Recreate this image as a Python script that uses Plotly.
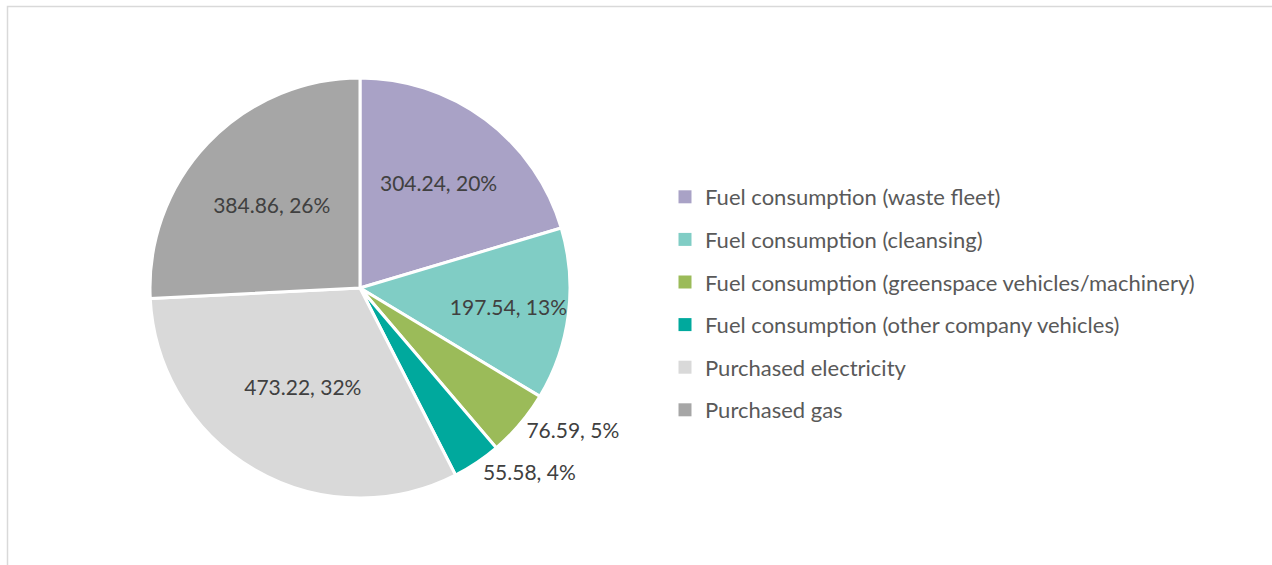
import plotly.graph_objects as go

categories = [
    "Fuel consumption (waste fleet)",
    "Fuel consumption (cleansing)",
    "Fuel consumption (greenspace vehicles/machinery)",
    "Fuel consumption (other company vehicles)",
    "Purchased electricity",
    "Purchased gas",
]
values = [304.24, 197.54, 76.59, 55.58, 473.22, 384.86]
colors = ["#a9a2c6", "#80cdc5", "#9bbb59", "#00a99d", "#d9d9d9", "#a6a6a6"]
text_positions = ["inside", "inside", "outside", "outside", "inside", "inside"]

W, H = 1272, 565
FONT = "Lato"

fig = go.Figure()
fig.add_trace(go.Pie(
    labels=categories,
    values=values,
    sort=False,
    direction="clockwise",
    rotation=0,
    marker=dict(colors=colors, line=dict(color="white", width=3)),
    texttemplate="%{value}, %{percent:.0%}",
    textposition=text_positions,
    insidetextorientation="horizontal",
    textfont=dict(family=FONT, size=21, color="#404040"),
    outsidetextfont=dict(family=FONT, size=21, color="#404040"),
    domain=dict(x=[150 / W, 570 / W], y=[(H - 498) / H, (H - 78) / H]),
    hoverinfo="label+value+percent",
    showlegend=False,
))

# legend entries (square swatches) for each category
for cat, col in zip(categories, colors):
    fig.add_trace(go.Scatter(
        x=[None], y=[None], mode="markers", name=cat,
        marker=dict(symbol="square", size=13, color=col),
        legendgroup=cat, hoverinfo="skip",
    ))

fig.update_layout(
    width=W, height=H,
    margin=dict(l=0, r=0, t=0, b=0),
    paper_bgcolor="white",
    plot_bgcolor="white",
    font=dict(family=FONT, color="#595959"),
    xaxis=dict(visible=False),
    yaxis=dict(visible=False),
    showlegend=True,
    legend=dict(
        x=665 / W, y=1 - 303.5 / H, xanchor="left", yanchor="middle",
        font=dict(family=FONT, size=22, color="#595959"),
        bgcolor="rgba(0,0,0,0)",
        traceorder="grouped",
        tracegroupgap=11,
    ),
    shapes=[dict(
        type="rect", xref="paper", yref="paper",
        x0=7.5 / W, x1=1.02, y0=-0.02, y1=1 - 6.5 / H,
        line=dict(color="#d9d9d9", width=1.5), layer="below",
    )],
)

fig.write_html(
    "out.html",
    config={"displayModeBar": False},
    post_script="document.body.style.margin='0px';document.body.style.overflow='hidden';",
)
